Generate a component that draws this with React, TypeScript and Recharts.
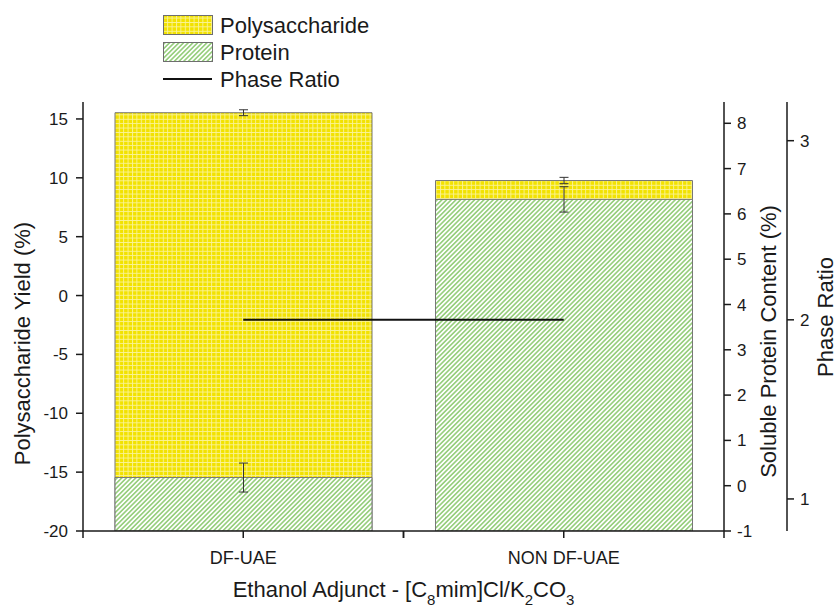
import React from "react"
import { ComposedChart, Bar, Line, XAxis, YAxis, ErrorBar, Legend } from "recharts"

const categories = ["DF-UAE", "NON DF-UAE"]
const polysaccharideYield = [15.53, 9.77]
const polysaccharideSd = [0.25, 0.27]
const proteinContent = [0.18, 6.32]
const proteinSd = [0.32, 0.28]
const phaseRatio = [2.0, 2.0]

const yieldTicks = [-20, -15, -10, -5, 0, 5, 10, 15]
const proteinTicks = [-1, 0, 1, 2, 3, 4, 5, 6, 7, 8]
const phaseTicks = [1, 2, 3]

const yieldDomain: [number, number] = [-20, 16.44]
const proteinDomain: [number, number] = [-1, 8.47]
const phaseDomain: [number, number] = [0.821, 3.216]

// bars rise from the bottom of their own axis, so they are stored as ranges
const data = categories.map((name, i) => ({
  name,
  polysaccharide: [yieldDomain[0], polysaccharideYield[i]],
  polysaccharideSd: polysaccharideSd[i],
  protein: [proteinDomain[0], proteinContent[i]],
  proteinSd: proteinSd[i],
  phase: phaseRatio[i],
}))

const W = 839
const H = 610
const LEFT_W = 83
const PROTEIN_W = 63
const PHASE_W = 52
const TOP = 102
const X_H = 79
const PLOT_W = W - LEFT_W - PROTEIN_W - PHASE_W
const BAND = PLOT_W / categories.length

const INK = "#1a1a1a"
const FONT = "'Liberation Sans', Arial, Helvetica, sans-serif"
const axisLine = { stroke: INK, strokeWidth: 1.5 }

function CategoryTick(props: any) {
  const { x, y, payload } = props
  return (
    <g>
      {[x - BAND / 2, x, x + BAND / 2].map((tx, i) => (
        <line key={i} x1={tx} x2={tx} y1={y} y2={y + 7} stroke={INK} strokeWidth={1.5} />
      ))}
      <text x={x} y={y + 33} textAnchor="middle" fontSize={18} fill={INK}>
        {payload.value}
      </text>
    </g>
  )
}

function XTitle(props: any) {
  const vb = props.viewBox || { x: LEFT_W, y: H - X_H, width: PLOT_W }
  const cx = vb.x + vb.width / 2
  const y = vb.y + 66
  return (
    <text x={cx} y={y} textAnchor="middle" fontSize={22} fill={INK}>
      Ethanol Adjunct - [C
      <tspan dy={8} fontSize={15}>8</tspan>
      <tspan dy={-8}>mim]Cl/K</tspan>
      <tspan dy={8} fontSize={15}>2</tspan>
      <tspan dy={-8}>CO</tspan>
      <tspan dy={8} fontSize={15}>3</tspan>
    </text>
  )
}

function yTitle(text: string, dx: number, dy: number, fallbackX: number) {
  return (props: any) => {
    const vb = props.viewBox || { x: fallbackX, y: TOP, height: H - TOP - X_H }
    const cx = vb.x + dx
    const cy = vb.y + vb.height / 2 + dy
    return (
      <text
        x={cx}
        y={cy}
        transform={`rotate(-90 ${cx} ${cy})`}
        textAnchor="middle"
        dy="0.35em"
        fontSize={22}
        fill={INK}
      >
        {text}
      </text>
    )
  }
}

function LegendBox() {
  const rows = [
    { label: "Polysaccharide", fill: "url(#polyGrid)" },
    { label: "Protein", fill: "url(#proteinHatch)" },
    { label: "Phase Ratio", fill: null },
  ]
  return (
    <svg width={400} height={95} style={{ display: "block", fontFamily: FONT }}>
      {rows.map((r, i) => {
        const cy = 25 + i * 27
        return (
          <g key={r.label}>
            {r.fill ? (
              <rect x={163.5} y={cy - 9.5} width={49} height={19} fill={r.fill} stroke="#6e6e6e" strokeWidth={1} />
            ) : (
              <line x1={163} x2={212} y1={cy} y2={cy} stroke="#111" strokeWidth={2} />
            )}
            <text x={220} y={cy + 7.5} fontSize={22} fill={INK}>
              {r.label}
            </text>
          </g>
        )
      })}
    </svg>
  )
}

export default function App() {
  return (
    <div style={{ position: "absolute", left: 0, top: 0, width: W, height: H, background: "#fff", fontFamily: FONT }}>
      <ComposedChart width={W} height={H} data={data} margin={{ top: TOP, right: 0, bottom: 0, left: 0 }}>
        <defs>
          <pattern id="polyGrid" width="4.4" height="4.4" patternUnits="userSpaceOnUse">
            <rect width="4.4" height="4.4" fill="#f2e200" />
            <path d="M0 0.5 H4.4 M0.5 0 V4.4" stroke="#ffffff" strokeOpacity={0.6} strokeWidth={0.9} />
          </pattern>
          <pattern id="proteinHatch" width="3.3" height="3.3" patternUnits="userSpaceOnUse" patternTransform="rotate(45)">
            <rect width="3.3" height="3.3" fill="#ffffff" />
            <line x1="1.65" y1="0" x2="1.65" y2="3.3" stroke="#7cc25c" strokeWidth={1.3} />
          </pattern>
        </defs>

        <XAxis
          dataKey="name"
          xAxisId="main"
          height={X_H}
          interval={0}
          axisLine={axisLine}
          tickLine={false}
          tickSize={0}
          tickMargin={0}
          tick={<CategoryTick />}
          label={{ content: XTitle }}
        />
        <XAxis dataKey="name" xAxisId="overlay" hide />

        <YAxis
          yAxisId="axisYield"
          orientation="left"
          width={LEFT_W}
          type="number"
          domain={yieldDomain}
          ticks={yieldTicks}
          interval={0}
          allowDataOverflow
          axisLine={axisLine}
          tickLine={axisLine}
          tickSize={7}
          tickMargin={8}
          tick={{ fill: INK, fontSize: 17 }}
          label={{ content: yTitle("Polysaccharide Yield (%)", 22, 27, 0) }}
        />
        <YAxis
          yAxisId="axisProtein"
          orientation="right"
          width={PROTEIN_W}
          type="number"
          domain={proteinDomain}
          ticks={proteinTicks}
          interval={0}
          allowDataOverflow
          axisLine={axisLine}
          tickLine={axisLine}
          tickSize={7}
          tickMargin={6}
          tick={{ fill: INK, fontSize: 17 }}
          label={{ content: yTitle("Soluble Protein Content (%)", 44, 25, LEFT_W + PLOT_W) }}
        />
        <YAxis
          yAxisId="axisRatio"
          orientation="right"
          width={PHASE_W}
          type="number"
          domain={phaseDomain}
          ticks={phaseTicks}
          interval={0}
          allowDataOverflow
          axisLine={axisLine}
          tickLine={axisLine}
          tickSize={7}
          tickMargin={6}
          tick={{ fill: INK, fontSize: 17 }}
          label={{ content: yTitle("Phase Ratio", 38, 0.5, LEFT_W + PLOT_W + PROTEIN_W) }}
        />

        <Legend
          content={LegendBox}
          layout="vertical"
          align="center"
          verticalAlign="middle"
          wrapperStyle={{ top: 0, left: 0, width: 400, height: 95 }}
        />

        <Bar
          name="Polysaccharide"
          dataKey="polysaccharide"
          xAxisId="main"
          yAxisId="axisYield"
          barSize={257}
          fill="url(#polyGrid)"
          stroke="#777"
          strokeWidth={1}
          isAnimationActive={false}
        >
          <ErrorBar dataKey="polysaccharideSd" width={4.5} stroke="#333" strokeWidth={1} />
        </Bar>
        <Bar
          name="Protein"
          dataKey="protein"
          xAxisId="overlay"
          yAxisId="axisProtein"
          barSize={257}
          fill="url(#proteinHatch)"
          stroke="#777"
          strokeWidth={1}
          isAnimationActive={false}
        >
          <ErrorBar dataKey="proteinSd" width={4.5} stroke="#333" strokeWidth={1} />
        </Bar>
        <Line
          name="Phase Ratio"
          dataKey="phase"
          xAxisId="main"
          yAxisId="axisRatio"
          stroke="#111"
          strokeWidth={2}
          dot={false}
          isAnimationActive={false}
        />
      </ComposedChart>
    </div>
  )
}
